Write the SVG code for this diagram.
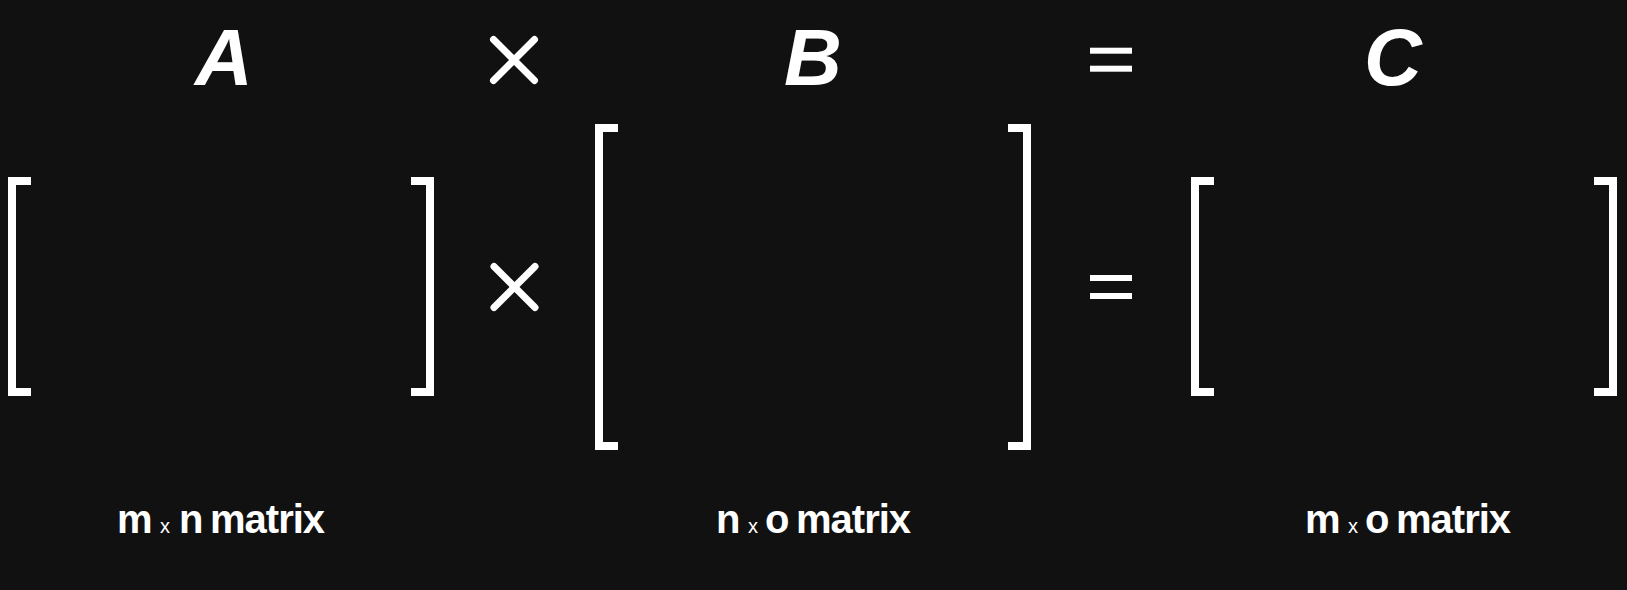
<svg xmlns="http://www.w3.org/2000/svg" width="1627" height="590" viewBox="0 0 1627 590">
<style>
.title{font-family:"Liberation Sans",Arial,sans-serif;font-weight:bold;font-style:italic;font-size:80px;fill:#fff;text-anchor:middle}
.lbl{font-family:"Liberation Sans",Arial,sans-serif;font-weight:bold;font-size:40px;fill:#fff;letter-spacing:-1px}
.sm{font-family:"Liberation Sans",Arial,sans-serif;font-size:20px;fill:#fff}
.br{fill:#fff}
.op{stroke:#fff;stroke-width:7;stroke-linecap:round;fill:none}
</style>
<defs>
<path id="lb" d="M0 0H23V8H8V211H23V219H0Z"/>
<path id="rb" d="M0 0H23V219H0V211H15V8H0Z"/>
<path id="lbB" d="M0 0H23V8H8V318H23V326H0Z"/>
<path id="rbB" d="M0 0H23V326H0V318H15V8H0Z"/>
<g id="times"><line x1="-20.5" y1="-20.5" x2="20.5" y2="20.5"/><line x1="20.5" y1="-20.5" x2="-20.5" y2="20.5"/></g>
<g id="eq"><rect x="0" y="0" width="42" height="6"/><rect x="0" y="18" width="42" height="6"/></g>
</defs>
<rect width="1627" height="590" fill="#111111"/>
<g id="matrixA">
<text class="title" x="224" y="85">A</text>
<use href="#lb" class="br" x="8" y="177"/>
<use href="#rb" class="br" x="411" y="177"/>
<text y="533"><tspan class="lbl" x="117">m</tspan><tspan class="sm" x="160">x</tspan><tspan class="lbl" x="179">n</tspan><tspan class="lbl" x="210">matrix</tspan></text>
</g>
<g id="opTimes">
<use href="#times" class="op" x="514" y="60"/>
<use href="#times" class="op" x="514.5" y="287"/>
</g>
<g id="matrixB">
<text class="title" x="813" y="85">B</text>
<use href="#lbB" class="br" x="595" y="124"/>
<use href="#rbB" class="br" x="1008" y="124"/>
<text y="533"><tspan class="lbl" x="716">n</tspan><tspan class="sm" x="748">x</tspan><tspan class="lbl" x="765">o</tspan><tspan class="lbl" x="796">matrix</tspan></text>
</g>
<g id="opEquals" fill="#fff">
<use href="#eq" x="1090" y="47.7"/>
<use href="#eq" x="1090" y="275"/>
</g>
<g id="matrixC">
<text class="title" x="1393" y="85">C</text>
<use href="#lb" class="br" x="1191" y="177"/>
<use href="#rb" class="br" x="1594" y="177"/>
<text y="533"><tspan class="lbl" x="1305">m</tspan><tspan class="sm" x="1348">x</tspan><tspan class="lbl" x="1365">o</tspan><tspan class="lbl" x="1396">matrix</tspan></text>
</g>
<g id="connectors"/>
</svg>
